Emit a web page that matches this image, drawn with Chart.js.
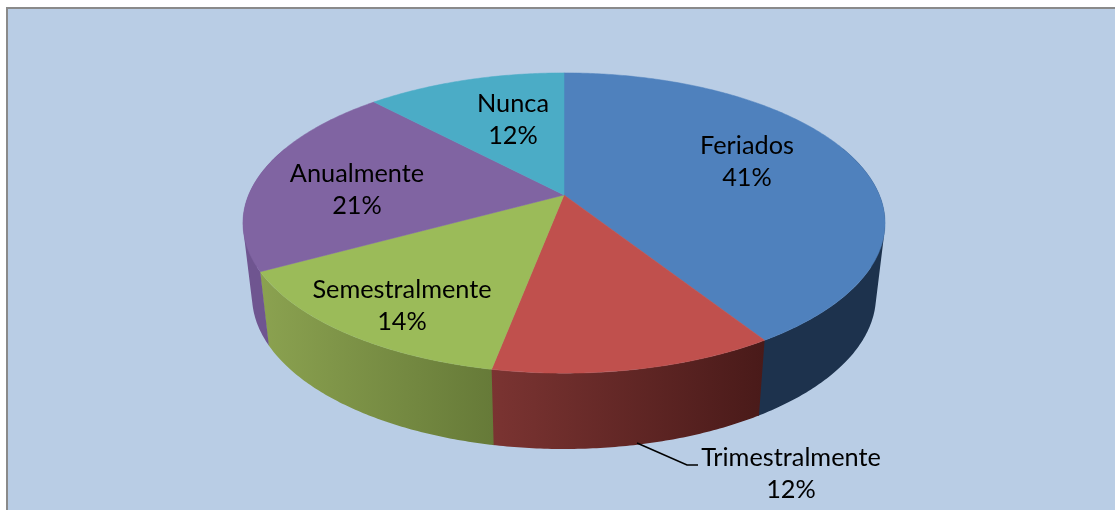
<!DOCTYPE html>
<html>
<head>
<meta charset="utf-8">
<style>html,body{margin:0;padding:0;background:#fff}canvas{display:block}</style>
<script src="https://cdn.jsdelivr.net/npm/chart.js@4/dist/chart.umd.min.js"></script>
</head>
<body>
<canvas id="c" width="1115" height="510"></canvas>
<script>
const categories = ['Feriados', 'Trimestralmente', 'Semestralmente', 'Anualmente', 'Nunca'];
const percentages = [41, 12, 14, 21, 12];
const topColors = ['#4f81bd', '#c0504d', '#9bbb59', '#8064a2', '#4bacc6'];
const wallStart = ['#1d324d', '#7b3432', '#8ba250', '#6f5590', '#2f7f95'];
const wallEnd = ['#1d324d', '#491a19', '#667a38', '#6f5590', '#2f7f95'];

const PERSPECTIVE = -0.1867;
const topFace = { x: 564, y: 195, d: 315.4, a: 144.9 };
const bottomFace = { x: 564, y: 267.4, d: 306.5, a: 147.7 };
const labelAnchors = [[747, 146], [791, 458], [402, 290], [357, 174], [513, 104]];
const leader = [[637, 443], [687, 465], [698, 465]];

function project(face, ang) {
  const u = Math.cos(ang), v = Math.sin(ang), w = 1 + PERSPECTIVE * v;
  return [face.x + face.d * u / w, face.y + face.a * v / w];
}
function arcPoints(face, from, to) {
  const n = Math.max(2, Math.ceil(Math.abs(to - from) / 0.01));
  const pts = [];
  for (let i = 0; i <= n; i++) pts.push(project(face, from + (to - from) * i / n));
  return pts;
}
function addPolygon(ctx, pts) {
  pts.forEach((p, i) => i ? ctx.lineTo(p[0], p[1]) : ctx.moveTo(p[0], p[1]));
  ctx.closePath();
}
function signedArea(pts) {
  let s = 0;
  pts.forEach((p, i) => {
    const q = pts[(i + 1) % pts.length];
    s += p[0] * q[1] - q[0] * p[1];
  });
  return s;
}

const pie3d = {
  id: 'pie3d',
  beforeDraw(chart) {
    const ctx = chart.ctx;
    ctx.save();
    ctx.fillStyle = '#ffffff';
    ctx.fillRect(0, 0, chart.width, chart.height);
    ctx.fillStyle = '#b9cde5';
    ctx.fillRect(6, 7, chart.width - 6, chart.height - 7);
    ctx.fillStyle = '#8a8a8a';
    ctx.fillRect(6, 7, 2, chart.height - 7);
    ctx.fillRect(6, 7, chart.width - 6, 2);
    ctx.restore();
  },
  beforeDatasetsDraw(chart) {
    const ctx = chart.ctx;
    const arcs = chart.getDatasetMeta(0).data;
    ctx.save();
    // side walls: all ruled strips of a slice go in one path, same winding, so no seams
    const visFrom = -0.35, visTo = Math.PI + 0.35;
    arcs.forEach((arc, i) => {
      const s = Math.max(arc.startAngle, visFrom);
      const e = Math.min(arc.endAngle + 0.004, visTo);
      if (e <= s) return;
      const top = arcPoints(topFace, s, e);
      const bot = arcPoints(bottomFace, s, e);
      const xs = top.concat(bot).map(p => p[0]);
      const g = ctx.createLinearGradient(Math.min(...xs), 0, Math.max(...xs), 0);
      g.addColorStop(0, wallStart[i]);
      g.addColorStop(1, wallEnd[i]);
      ctx.beginPath();
      for (let k = 0; k < top.length - 1; k++) {
        const quad = [top[k], top[k + 1], bot[k + 1], bot[k]];
        if (signedArea(quad) < 0) quad.reverse();
        addPolygon(ctx, quad);
      }
      ctx.fillStyle = g;
      ctx.fill('nonzero');
    });
    // top face
    arcs.forEach((arc, i) => {
      const pts = [[topFace.x, topFace.y]].concat(arcPoints(topFace, arc.startAngle, arc.endAngle));
      ctx.beginPath();
      addPolygon(ctx, pts);
      ctx.fillStyle = topColors[i];
      ctx.strokeStyle = topColors[i];
      ctx.lineWidth = 0.5;
      ctx.fill();
      ctx.stroke();
    });
    // leader line
    ctx.beginPath();
    leader.forEach((p, i) => i ? ctx.lineTo(p[0], p[1]) : ctx.moveTo(p[0], p[1]));
    ctx.strokeStyle = '#000';
    ctx.lineWidth = 1.6;
    ctx.stroke();
    // labels
    ctx.fillStyle = '#000';
    ctx.font = '25.3px Lato, "Open Sans", sans-serif';
    ctx.textAlign = 'center';
    ctx.textBaseline = 'middle';
    categories.forEach((name, i) => {
      const [x, y] = labelAnchors[i];
      ctx.fillText(name, x, y);
      ctx.fillText(percentages[i] + '%', x, y + 32);
    });
    ctx.restore();
    return false; // the projected slices replace the flat arcs
  }
};

new Chart(document.getElementById('c'), {
  type: 'pie',
  data: {
    labels: categories,
    datasets: [{ data: percentages, backgroundColor: topColors, borderWidth: 0 }]
  },
  options: {
    responsive: false,
    animation: false,
    events: [],
    plugins: { legend: { display: false }, tooltip: { enabled: false } }
  },
  plugins: [pie3d]
});
</script>
</body>
</html>
